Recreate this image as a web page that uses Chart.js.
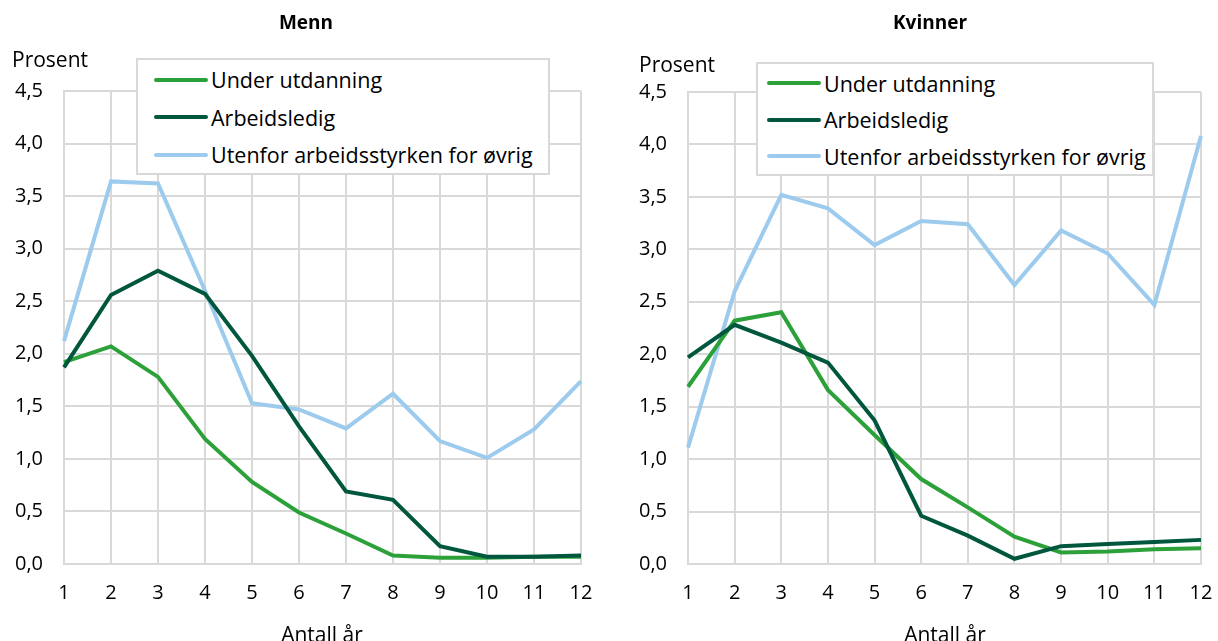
<!DOCTYPE html>
<html>
<head>
<meta charset="utf-8">
<script src="https://cdn.jsdelivr.net/npm/chart.js@4"></script>
<style>
    html, body { margin: 0; padding: 0; background: #fff; overflow: hidden; }
    body { width: 1218px; height: 641px; position: relative; font-family: 'Open Sans', sans-serif; color: #000; }
    .panel { position: absolute; top: 0; width: 609px; height: 641px; }
    .panel canvas { position: absolute; left: 0; top: 0; }
    .title { position: absolute; top: 9px; font-weight: bold; font-size: 19px; transform: translateX(-50%); white-space: nowrap; }
    .unit { position: absolute; font-size: 21px; white-space: nowrap; }
    .xtitle { position: absolute; top: 620px; font-size: 21px; transform: translateX(-50%); white-space: nowrap; }
    .legend { position: absolute; background: #fff; border: 2px solid #d9d9d9; box-sizing: border-box; padding: 1px 0 0 15px; }
    .legend .item { height: 37px; display: flex; align-items: center; font-size: 21.5px; white-space: nowrap; }
    .legend .swatch { width: 54px; height: 4px; border-radius: 2px; margin-right: 3px; }
</style>
</head>
<body>
<div class="panel" style="left:0"><canvas id="menn" width="609" height="641"></canvas></div>
<div class="panel" style="left:609px"><canvas id="kvinner" width="609" height="641"></canvas></div>

<script>
// Antall år (x-axis)
const years = ['1', '2', '3', '4', '5', '6', '7', '8', '9', '10', '11', '12'];

const seriesNames = ['Under utdanning', 'Arbeidsledig', 'Utenfor arbeidsstyrken for øvrig'];
const seriesColors = ['#2ca13a', '#00573d', '#9dcbee'];

// Menn, prosent
const mennUtdanning = [1.92, 2.07, 1.78, 1.19, 0.78, 0.49, 0.29, 0.08, 0.06, 0.06, 0.07, 0.07];
const mennArbeidsledig = [1.87, 2.56, 2.79, 2.57, 1.98, 1.31, 0.69, 0.61, 0.17, 0.07, 0.07, 0.08];
const mennUtenfor = [2.12, 3.64, 3.62, 2.60, 1.53, 1.47, 1.29, 1.62, 1.17, 1.01, 1.28, 1.74];

// Kvinner, prosent
const kvinnerUtdanning = [1.69, 2.32, 2.40, 1.66, 1.23, 0.81, 0.54, 0.26, 0.11, 0.12, 0.14, 0.15];
const kvinnerArbeidsledig = [1.97, 2.28, 2.11, 1.92, 1.37, 0.46, 0.27, 0.05, 0.17, 0.19, 0.21, 0.23];
const kvinnerUtenfor = [1.11, 2.60, 3.52, 3.39, 3.04, 3.27, 3.24, 2.66, 3.18, 2.96, 2.47, 4.08];

const gridColor = '#d9d9d9';
const fontFamily = "'Open Sans', sans-serif";

function makeChart(canvasId, data, layout) {
    const ctx = document.getElementById(canvasId).getContext('2d');
    return new Chart(ctx, {
        type: 'line',
        data: {
            labels: years,
            // draw order: light blue at the back, then light green, dark green on top
            datasets: data.map((values, i) => ({
                label: seriesNames[i],
                data: values,
                borderColor: seriesColors[i],
                backgroundColor: seriesColors[i],
                borderWidth: 4,
                pointRadius: 0,
                tension: 0,
                fill: false,
                order: i === 2 ? 3 : (i === 0 ? 2 : 1)
            }))
        },
        options: {
            responsive: false,
            devicePixelRatio: 1,
            animation: false,
            layout: {
                padding: { left: 0, right: layout.right, top: layout.top, bottom: 36 }
            },
            plugins: {
                legend: { display: false },
                title: { display: false },
                tooltip: { enabled: false }
            },
            scales: {
                x: {
                    type: 'category',
                    offset: false,
                    grid: { color: gridColor, lineWidth: 2, drawTicks: false, tickLength: 0 },
                    border: { color: gridColor, width: 2 },
                    afterFit: function (scale) {
                        // keep the plot edges where the layout padding puts them
                        scale.height = 41;
                        scale.paddingLeft = 0;
                        scale.paddingRight = 0;
                    },
                    ticks: {
                        color: '#000',
                        padding: 17,
                        maxRotation: 0,
                        autoSkip: false,
                        font: { family: fontFamily, size: 20 }
                    }
                },
                y: {
                    min: 0,
                    max: 4.5,
                    grid: { color: gridColor, lineWidth: 2, drawTicks: false, tickLength: 0 },
                    border: { color: gridColor, width: 2 },
                    afterFit: function (scale) {
                        scale.width = layout.left;
                    },
                    ticks: {
                        stepSize: 0.5,
                        color: '#000',
                        padding: 21,
                        font: { family: fontFamily, size: 20 },
                        callback: function (value) {
                            return value.toFixed(1).replace('.', ',');
                        }
                    }
                }
            }
        }
    });
}

function addOverlay(panelIndex, title, titleX, unitPos, legendBox, xTitleX) {
    const panel = document.querySelectorAll('.panel')[panelIndex];

    const t = document.createElement('div');
    t.className = 'title';
    t.style.left = titleX + 'px';
    t.textContent = title;
    panel.appendChild(t);

    const u = document.createElement('div');
    u.className = 'unit';
    u.style.left = unitPos[0] + 'px';
    u.style.top = unitPos[1] + 'px';
    u.textContent = 'Prosent';
    panel.appendChild(u);

    const xt = document.createElement('div');
    xt.className = 'xtitle';
    xt.style.left = xTitleX + 'px';
    xt.textContent = 'Antall år';
    panel.appendChild(xt);

    const lg = document.createElement('div');
    lg.className = 'legend';
    lg.style.left = legendBox[0] + 'px';
    lg.style.top = legendBox[1] + 'px';
    lg.style.width = legendBox[2] + 'px';
    lg.style.height = legendBox[3] + 'px';
    lg.style.paddingLeft = legendBox[4] + 'px';
    seriesNames.forEach((name, i) => {
        const item = document.createElement('div');
        item.className = 'item';
        item.style.height = legendBox[5] + 'px';
        const sw = document.createElement('span');
        sw.className = 'swatch';
        sw.style.background = seriesColors[i];
        const txt = document.createElement('span');
        txt.textContent = name;
        item.appendChild(sw);
        item.appendChild(txt);
        lg.appendChild(item);
    });
    panel.appendChild(lg);
}

makeChart('menn', [mennUtdanning, mennArbeidsledig, mennUtenfor], { left: 64, right: 28, top: 91 });
makeChart('kvinner', [kvinnerUtdanning, kvinnerArbeidsledig, kvinnerUtenfor], { left: 79, right: 17, top: 92 });

addOverlay(0, 'Menn', 306, [12, 45], [136, 58, 414, 117, 16, 37.5], 322);
addOverlay(1, 'Kvinner', 321, [30, 50], [147, 62, 398, 114, 9, 36.5], 336);
</script>
</body>
</html>
